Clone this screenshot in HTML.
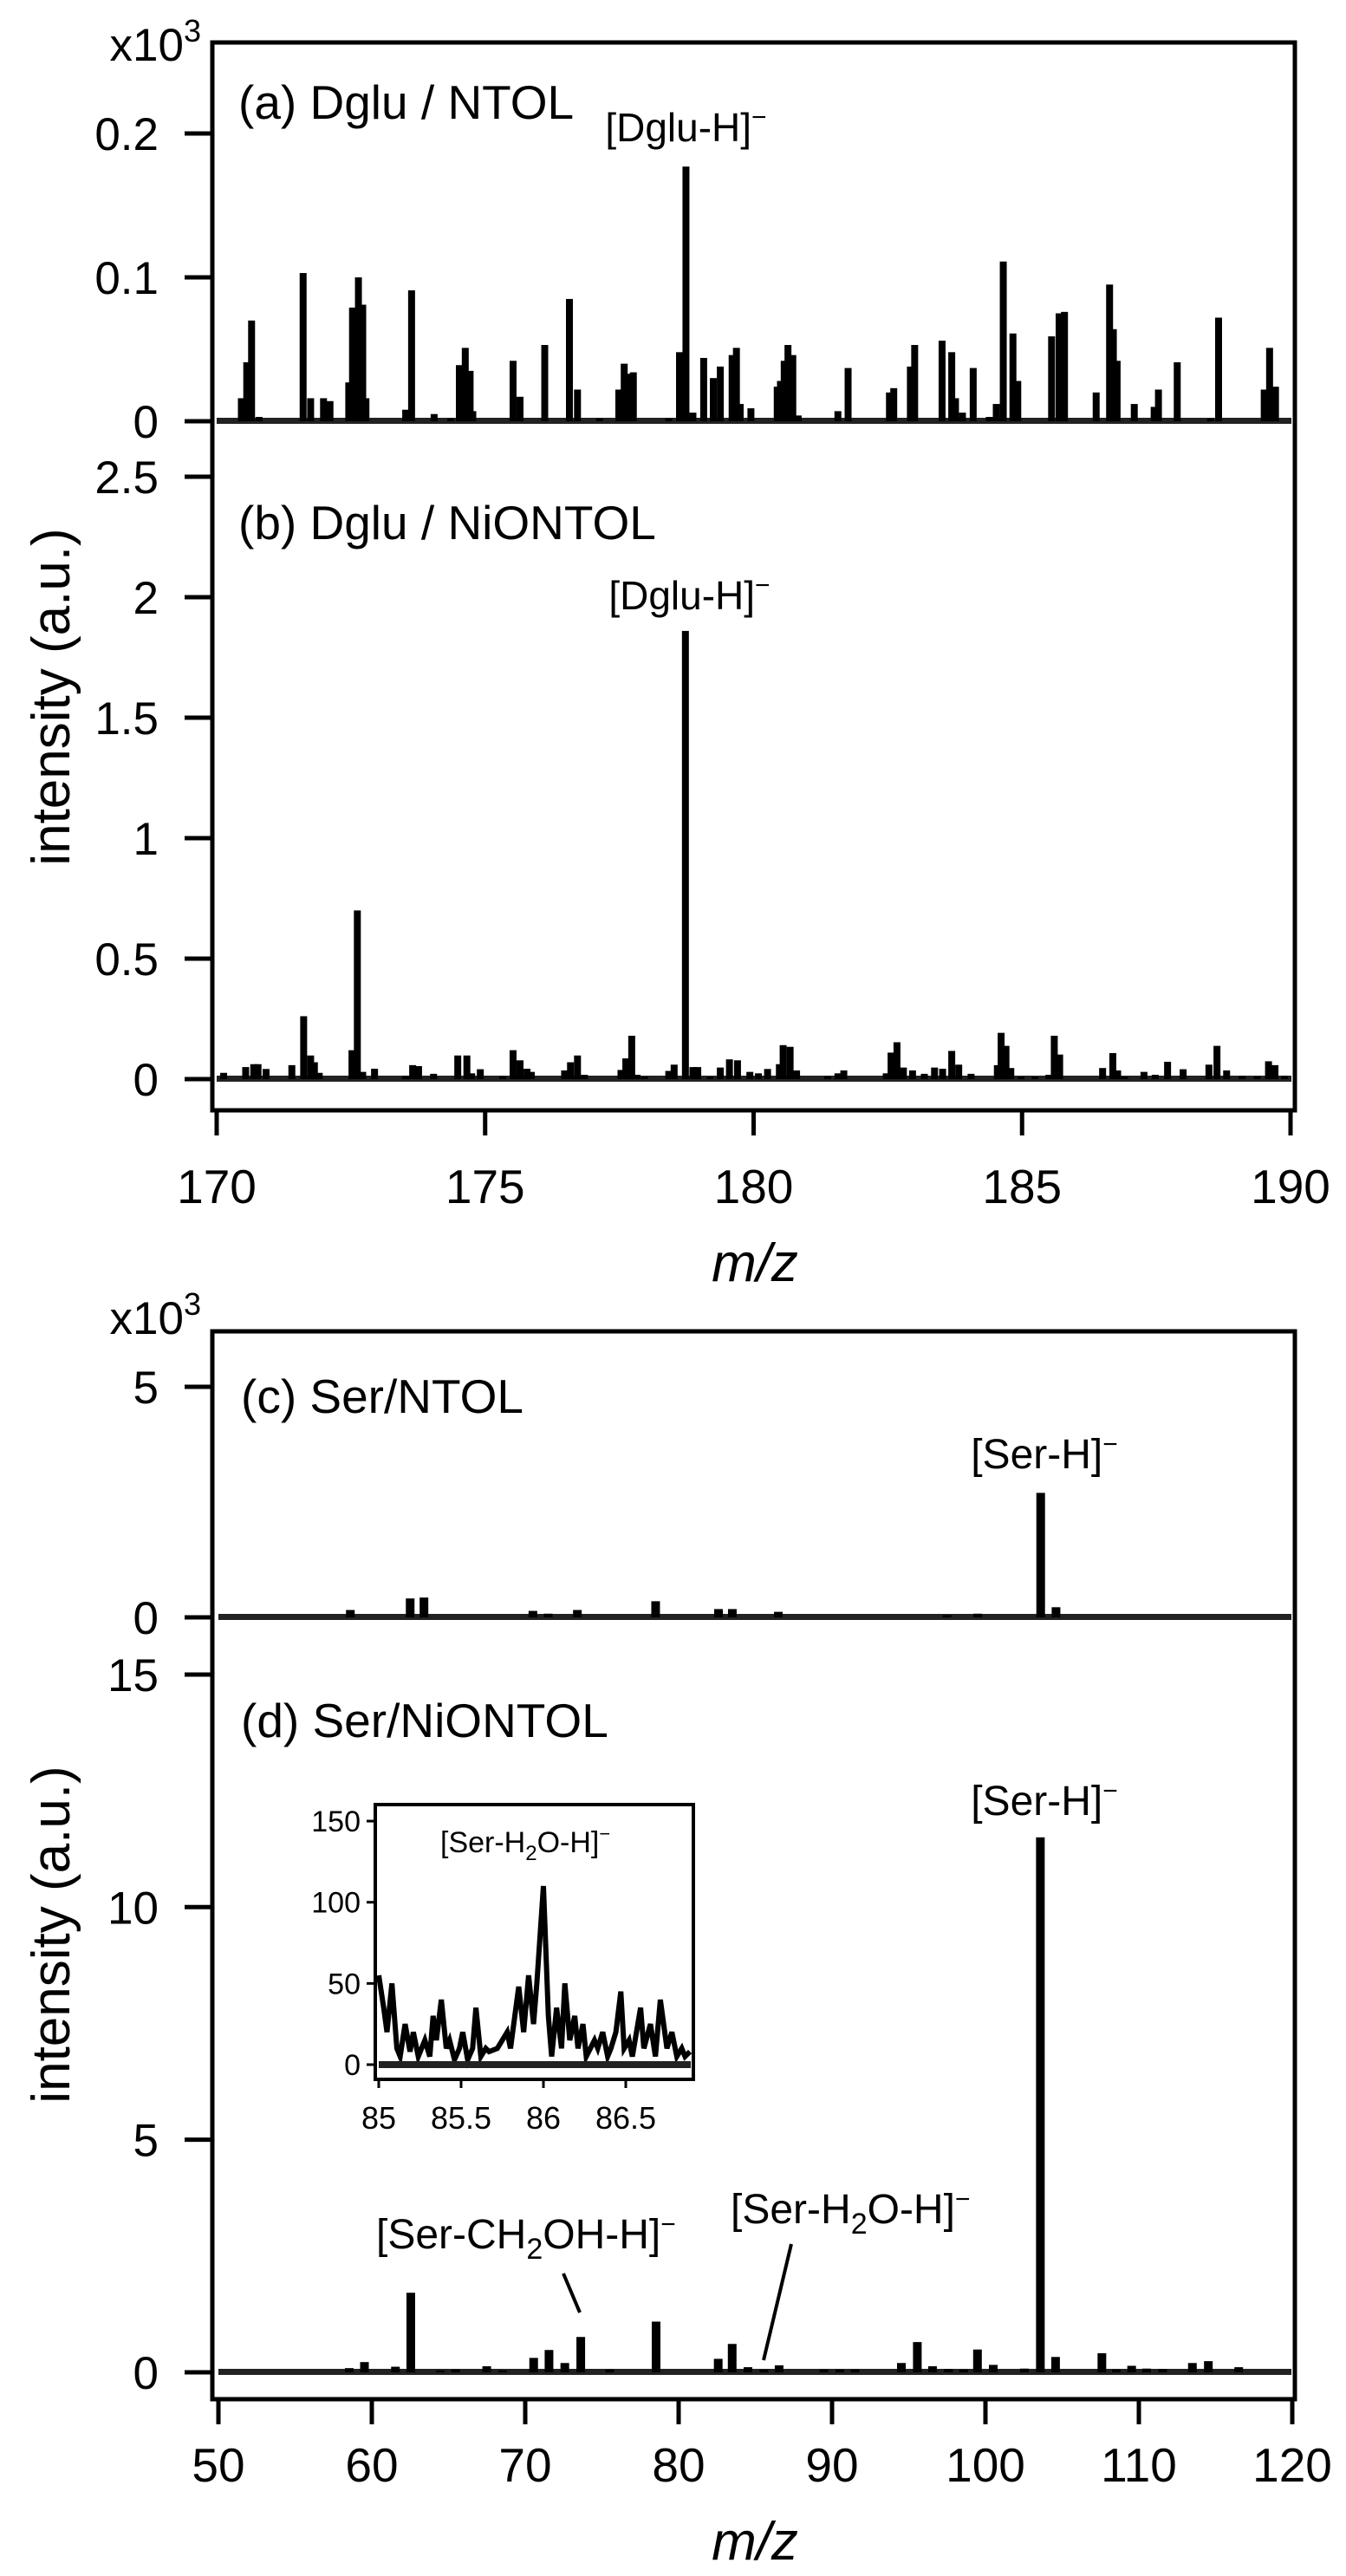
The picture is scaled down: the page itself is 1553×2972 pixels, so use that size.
<!DOCTYPE html>
<html><head><meta charset="utf-8"><style>
html,body{margin:0;padding:0;background:#fff}
svg{display:block}
text{font-family:"Liberation Sans",Arial,sans-serif;fill:#000}
</style></head><body>
<svg id="fig" xmlns="http://www.w3.org/2000/svg" width="1553" height="2972" viewBox="0 0 1553 2972"></svg>
<script>
// ---- data ----
const aMz=[170.46,170.56,170.65,170.79,171.61,171.75,171.99,172.11,172.46,172.53,172.64,172.72,172.78,173.52,173.63,174.05,174.36,174.52,174.63,174.72,174.77,175.52,175.65,176.11,176.57,176.72,177.13,177.49,177.59,177.69,177.76,178.42,178.62,178.74,178.87,179.07,179.25,179.38,179.60,179.68,179.75,179.95,180.44,180.50,180.57,180.64,180.73,180.83,181.57,181.76,182.53,182.61,182.92,183.00,183.51,183.69,183.76,183.89,184.09,184.39,184.52,184.65,184.83,184.92,185.55,185.69,185.79,186.38,186.63,186.70,186.77,187.09,187.46,187.54,187.89,188.51,188.66,189.51,189.61,189.72];
const aVal=[0.016,0.041,0.070,0.003,0.103,0.016,0.016,0.014,0.027,0.079,0.100,0.081,0.016,0.008,0.091,0.005,0.002,0.039,0.051,0.035,0.007,0.042,0.017,0.053,0.085,0.022,0.002,0.022,0.040,0.033,0.034,0.002,0.048,0.177,0.006,0.044,0.030,0.038,0.046,0.051,0.012,0.009,0.024,0.028,0.042,0.053,0.046,0.004,0.007,0.037,0.020,0.023,0.038,0.053,0.056,0.048,0.016,0.006,0.037,0.003,0.012,0.111,0.061,0.028,0.059,0.075,0.076,0.020,0.095,0.064,0.042,0.012,0.010,0.022,0.041,0.002,0.072,0.022,0.051,0.024];
const bMz=[170.13,170.54,170.69,170.77,170.92,171.40,171.62,171.75,171.82,171.91,172.52,172.62,172.72,172.94,173.52,173.65,173.76,174.04,174.49,174.66,174.75,174.91,175.33,175.52,175.65,175.78,175.86,176.48,176.59,176.72,176.85,177.53,177.62,177.73,177.83,177.97,178.42,178.52,178.73,178.87,178.96,179.19,179.38,179.55,179.70,179.93,180.09,180.26,180.48,180.55,180.68,180.80,181.38,181.57,181.68,182.47,182.56,182.67,182.79,182.96,183.18,183.37,183.52,183.69,183.82,184.05,184.54,184.61,184.70,184.79,184.98,185.24,185.50,185.60,185.70,186.50,186.69,186.78,186.91,187.27,187.48,187.71,188.00,188.48,188.63,188.81,189.10,189.38,189.59,189.71,189.89];
const bVal=[0.026,0.050,0.062,0.062,0.042,0.058,0.261,0.098,0.070,0.026,0.120,0.700,0.030,0.043,0.014,0.058,0.054,0.022,0.098,0.098,0.024,0.041,0.012,0.120,0.078,0.043,0.030,0.036,0.070,0.098,0.018,0.038,0.086,0.180,0.018,0.010,0.034,0.060,1.860,0.050,0.050,0.010,0.048,0.082,0.078,0.030,0.024,0.042,0.062,0.141,0.134,0.036,0.012,0.024,0.036,0.024,0.110,0.153,0.048,0.036,0.022,0.048,0.043,0.117,0.060,0.022,0.058,0.192,0.138,0.046,0.010,0.010,0.018,0.180,0.102,0.046,0.108,0.036,0.010,0.030,0.018,0.072,0.041,0.060,0.138,0.036,0.014,0.012,0.074,0.058,0.014];
const cMz=[58.6,62.5,63.4,70.5,71.5,73.4,78.5,82.6,83.5,86.5,97.5,99.5,103.6,104.6];
const cVal=[0.16,0.41,0.43,0.14,0.08,0.16,0.35,0.18,0.18,0.12,0.05,0.08,2.70,0.22];
const dMz=[58.53,59.52,61.54,62.54,64.47,65.46,67.49,68.53,70.55,71.55,72.58,73.62,75.51,78.53,82.58,83.49,84.52,85.56,86.55,89.47,90.51,91.50,94.52,95.56,96.55,97.59,98.58,99.48,100.51,102.54,103.58,104.57,107.59,108.53,109.53,110.51,111.55,113.49,114.53,116.51];
const dVal=[0.09,0.22,0.12,1.71,0.04,0.06,0.13,0.04,0.31,0.48,0.20,0.76,0.06,1.09,0.29,0.61,0.11,0.06,0.15,0.06,0.06,0.06,0.20,0.65,0.13,0.07,0.06,0.49,0.16,0.08,11.5,0.33,0.41,0.06,0.14,0.08,0.07,0.20,0.24,0.11];
const insMz=[85.00,85.03,85.05,85.08,85.11,85.13,85.16,85.19,85.21,85.24,85.28,85.31,85.33,85.35,85.38,85.41,85.43,85.46,85.49,85.51,85.54,85.57,85.59,85.62,85.65,85.67,85.72,85.78,85.80,85.85,85.88,85.91,85.94,85.96,86.00,86.03,86.05,86.08,86.11,86.13,86.16,86.19,86.21,86.24,86.26,86.31,86.33,86.36,86.39,86.41,86.44,86.47,86.49,86.52,86.54,86.59,86.61,86.65,86.68,86.71,86.75,86.78,86.81,86.84,86.86,86.89];
const insVal=[55,35,20,50,10,5,25,8,20,5,15,5,30,15,40,10,15,3,10,20,3,10,35,5,10,8,10,20,10,48,20,55,25,50,110,30,5,35,10,50,15,30,10,25,5,15,10,20,5,10,20,45,10,15,5,35,10,25,5,40,10,20,5,10,5,8];
const topXTicks=[170,175,180,185,190];
const botXTicks=[50,60,70,80,90,100,110,120];
const aTicks=[0,0.1,0.2];
const bTicks=[0,0.5,1,1.5,2,2.5];
const cTicks=[0,5];
const dTicks=[0,5,10,15];
const insXTicks=[85,85.5,86,86.5];
const insYTicks=[0,50,100,150];

const NS="http://www.w3.org/2000/svg";
const svg=document.getElementById('fig');
function el(tag,attrs,parent){const e=document.createElementNS(NS,tag);for(const k in attrs)e.setAttribute(k,attrs[k]);(parent||svg).appendChild(e);return e;}
function txt(str,x,y,size,anchor,parent){const t=el('text',{x:x,y:y,'font-size':size,'text-anchor':anchor||'start'},parent);t.textContent=str;return t;}

const xTop=v=>250+(v-170)*61.95;
const xBot=v=>252+(v-50)*17.7;
const yA=v=>486-v*1660;
const yB=v=>1245-v*278;
const yC=v=>1866-v*53.2;
const yD=v=>2737-v*53.67;
const xIns=v=>437+(v-85)*190;
const yIns=v=>2382-v*1.873;

function frame(y0,y1,name){const r=el('rect',{x:245,y:y0,width:1249,height:y1-y0,fill:'none',stroke:'#000','stroke-width':5});

}

function yAxis(ticks,ys,fmt,name){const g=el('g',{});


ticks.forEach(t=>{const y=ys(t);el('line',{x1:213,y1:y,x2:245,y2:y,stroke:'#000','stroke-width':5},g);const l=txt(fmt(t),183,y+19,53,'end',g);

});}

function xAxis(ticks,xs,yb,labY,name){const g=el('g',{});


ticks.forEach(t=>{const x=xs(t);el('line',{x1:x,y1:yb,x2:x,y2:yb+29,stroke:'#000','stroke-width':5},g);const l=txt(String(t),x,labY,55,'middle',g);

});}

function baseline(y,x0,x1,name){const r=el('rect',{x:x0,y:y-4,width:x1-x0,height:7,fill:'#222'});

}

function bars(mz,val,xs,ys,w,name){const g=el('g',{});


mz.forEach((m,i)=>{const x=xs(m),y=ys(val[i]),y0=ys(0);const r=el('rect',{x:x-w/2,y:y,width:w,height:Math.max(0,y0-y),fill:'#000'},g);

});}

// ===== top figure =====
baseline(yA(0),250,1490,'baseline-a');
baseline(yB(0),250,1490,'baseline-b');
bars(aMz,aVal,xTop,yA,8,'spectrum-a');
bars(bMz,bVal,xTop,yB,8,'spectrum-b');
frame(49,1281,'top-plot-frame');
yAxis(aTicks,yA,t=>t===0?'0':String(t),'y-axis-a');
yAxis(bTicks,yB,t=>String(t),'y-axis-b');
xAxis(topXTicks,xTop,1281,1388,'x-axis-top');

let t;
t=el('text',{x:232,y:70,'font-size':53,'text-anchor':'end'});t.innerHTML='x10<tspan dy="-22" font-size="36">3</tspan>';


t=txt('(a) Dglu / NTOL',275,137,55);


t=txt('(b) Dglu / NiONTOL',275,622,55);


t=el('text',{x:xTop(178.74),y:163,'font-size':46,'text-anchor':'middle'});t.innerHTML='[Dglu-H]<tspan dy="-18" font-size="30">−</tspan>';


t=el('text',{x:xTop(178.74)+4,y:703,'font-size':46,'text-anchor':'middle'});t.innerHTML='[Dglu-H]<tspan dy="-18" font-size="30">−</tspan>';


t=el('text',{x:0,y:0,'font-size':62,'text-anchor':'middle',transform:'translate(80,804) rotate(-90)'});t.textContent='intensity (a.u.)';


t=el('text',{x:871,y:1478,'font-size':62,'text-anchor':'middle','font-style':'italic'});t.textContent='m/z';



// ===== bottom figure =====
baseline(yC(0),252,1490,'baseline-c');
baseline(yD(0),252,1490,'baseline-d');
bars(cMz,cVal,xBot,yC,10,'spectrum-c');
bars(dMz,dVal,xBot,yD,10,'spectrum-d');
frame(1536,2768,'bottom-plot-frame');
yAxis(cTicks,yC,t=>String(t),'y-axis-c');
yAxis(dTicks,yD,t=>String(t),'y-axis-d');
xAxis(botXTicks,xBot,2768,2863,'x-axis-bottom');

t=el('text',{x:232,y:1539,'font-size':53,'text-anchor':'end'});t.innerHTML='x10<tspan dy="-22" font-size="36">3</tspan>';


t=txt('(c) Ser/NTOL',278,1630,55);


t=txt('(d) Ser/NiONTOL',278,2004,55);


t=el('text',{x:1205,y:1694,'font-size':48,'text-anchor':'middle'});t.innerHTML='[Ser-H]<tspan dy="-18" font-size="30">−</tspan>';


t=el('text',{x:1205,y:2094,'font-size':48,'text-anchor':'middle'});t.innerHTML='[Ser-H]<tspan dy="-18" font-size="30">−</tspan>';


t=el('text',{x:434,y:2594,'font-size':48});t.innerHTML='[Ser-CH<tspan dy="12" font-size="34">2</tspan><tspan dy="-12">OH-H]</tspan><tspan dy="-18" font-size="30">−</tspan>';


t=el('text',{x:843,y:2565,'font-size':48});t.innerHTML='[Ser-H<tspan dy="12" font-size="34">2</tspan><tspan dy="-12">O-H]</tspan><tspan dy="-18" font-size="30">−</tspan>';


let ln=el('line',{x1:650,y1:2623,x2:669,y2:2668,stroke:'#000','stroke-width':4});


ln=el('line',{x1:913,y1:2589,x2:881,y2:2723,stroke:'#000','stroke-width':4});


t=el('text',{x:0,y:0,'font-size':62,'text-anchor':'middle',transform:'translate(80,2232) rotate(-90)'});t.textContent='intensity (a.u.)';


t=el('text',{x:871,y:2953,'font-size':62,'text-anchor':'middle','font-style':'italic'});t.textContent='m/z';



// ===== inset =====
const ig=el('g',{});


el('rect',{x:433,y:2082,width:367,height:317,fill:'#fff'},ig);
let pts=insMz.map((m,i)=>xIns(m).toFixed(1)+','+yIns(insVal[i]).toFixed(1));
let pl=el('polyline',{points:pts.join(' '),fill:'none',stroke:'#000','stroke-width':6,'stroke-linejoin':'miter'},ig);


el('rect',{x:437,y:2378,width:360,height:8,fill:'#222'},ig);
let fr=el('rect',{x:433,y:2082,width:367,height:317,fill:'none',stroke:'#000','stroke-width':4},ig);


insYTicks.forEach(v=>{const y=yIns(v);el('line',{x1:423,y1:y,x2:433,y2:y,stroke:'#000','stroke-width':3},ig);const l=txt(String(v),416,y+12,34,'end',ig);

});
insXTicks.forEach(v=>{const x=xIns(v);el('line',{x1:x,y1:2399,x2:x,y2:2409,stroke:'#000','stroke-width':3},ig);const l=txt(String(v),x,2456,36,'middle',ig);

});
t=el('text',{x:508,y:2137,'font-size':34},ig);t.innerHTML='[Ser-H<tspan dy="9" font-size="24">2</tspan><tspan dy="-9">O-H]</tspan><tspan dy="-14" font-size="22">−</tspan>';


</script>
</body></html>
